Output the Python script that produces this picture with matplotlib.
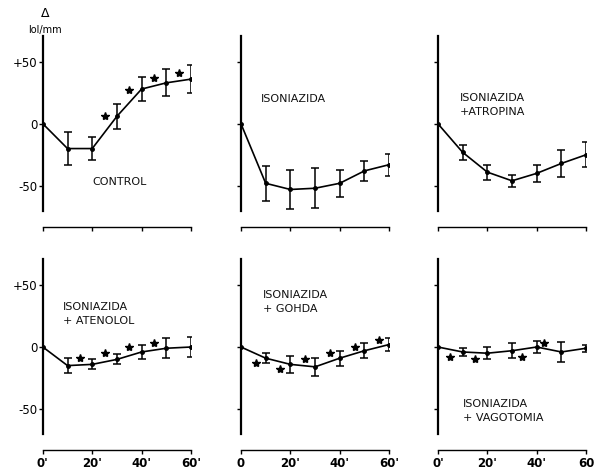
import numpy as np
import matplotlib
matplotlib.use("Agg")
import matplotlib.pyplot as plt

times = [0, 10, 20, 30, 40, 50, 60]

control_mean = [0, -20, -20, 6, 28, 33, 36]
control_err = [0, 13, 9, 10, 10, 11, 11]
isoniazida_mean = [0, -48, -53, -52, -48, -38, -33]
isoniazida_err = [0, 14, 16, 16, 11, 8, 9]
atropina_mean = [0, -23, -39, -46, -40, -32, -25]
atropina_err = [0, 6, 6, 5, 7, 11, 10]
atenolol_mean = [0, -15, -14, -10, -4, -1, 0]
atenolol_err = [0, 6, 4, 4, 6, 8, 8]
gohda_mean = [0, -9, -14, -16, -9, -3, 2]
gohda_err = [0, 4, 7, 7, 6, 6, 5]
vagotomia_mean = [0, -4, -5, -3, 0, -4, -1]
vagotomia_err = [0, 3, 5, 6, 5, 8, 3]

# significance marks (*)
control_star_t = [25, 35, 45, 55]
control_star_y = [6, 27, 37, 41]
atenolol_star_t = [15, 25, 35, 45]
atenolol_star_y = [-9, -5, 0, 3]
gohda_star_t = [6, 16, 26, 36, 46, 56]
gohda_star_y = [-13, -18, -10, -5, 0, 6]
vagotomia_star_t = [5, 15, 34, 43]
vagotomia_star_y = [-8, -10, -8, 3]

y_ticks = [-50, 0, 50]
y_tick_labels = ["-50", "0", "+50"]
x_ticks = [0, 20, 40, 60]

panels = [
    ("CONTROL", control_mean, control_err, control_star_t, control_star_y, (20, -47)),
    ("ISONIAZIDA", isoniazida_mean, isoniazida_err, [], [], (8, 20)),
    ("ISONIAZIDA\n+ATROPINA", atropina_mean, atropina_err, [], [], (9, 15)),
    ("ISONIAZIDA\n+ ATENOLOL", atenolol_mean, atenolol_err, atenolol_star_t, atenolol_star_y, (8, 27)),
    ("ISONIAZIDA\n+ GOHDA", gohda_mean, gohda_err, gohda_star_t, gohda_star_y, (9, 36)),
    ("ISONIAZIDA\n+ VAGOTOMIA", vagotomia_mean, vagotomia_err, vagotomia_star_t, vagotomia_star_y, (10, -52)),
]
bottom_labels = [
    ["0'", "20'", "40'", "60'"],
    ["0", "20'", "40'", "60'"],
    ["0'", "20'", "40'", "60"],
]

fig = plt.figure(figsize=(5.95, 4.70), dpi=100)
lefts = [0.072, 0.405, 0.736]
bottoms = [0.552, 0.077]
w, h = 0.249, 0.372

for i, (label, mean, err, st, sy, (lx, ly)) in enumerate(panels):
    row, col = divmod(i, 3)
    ax = fig.add_axes([lefts[col], bottoms[row], w, h])
    ax.plot(times, mean, color="black", lw=1.2, marker="o", ms=2.5, zorder=3)
    ax.errorbar(times[1:], mean[1:], yerr=err[1:], fmt="none", ecolor="black",
                elinewidth=1.1, capsize=3, capthick=1.1)
    if st:
        ax.plot(st, sy, ls="none", marker="*", ms=6, color="black")
    ax.text(lx, ly, label, fontsize=8, va="center", ha="left",
            linespacing=1.5, color="#111111")

    ax.set_xlim(0, 60)
    ax.set_ylim(-70, 71)
    for s in ["top", "right"]:
        ax.spines[s].set_visible(False)
    ax.spines["left"].set_linewidth(1.6)
    ax.spines["bottom"].set_position(("outward", 12))
    ax.spines["bottom"].set_linewidth(1.0)
    ax.set_yticks(y_ticks)
    ax.set_xticks(x_ticks)
    ax.tick_params(axis="y", direction="out", length=3, width=1, labelsize=8.5, pad=1)
    ax.tick_params(axis="x", direction="out", length=3, width=1, labelsize=8.5, pad=1.5)
    if col == 0:
        ax.set_yticklabels(y_tick_labels)
    else:
        ax.set_yticklabels([])
    if row == 1:
        ax.set_xticklabels(bottom_labels[col], fontweight="bold")
    else:
        ax.set_xticklabels([])

fig.text(0.076, 0.972, "Δ", fontsize=9, ha="center", va="center")
fig.text(0.075, 0.937, "lol/mm", fontsize=7, ha="center", va="center")

fig.savefig("out.png", dpi=100)
